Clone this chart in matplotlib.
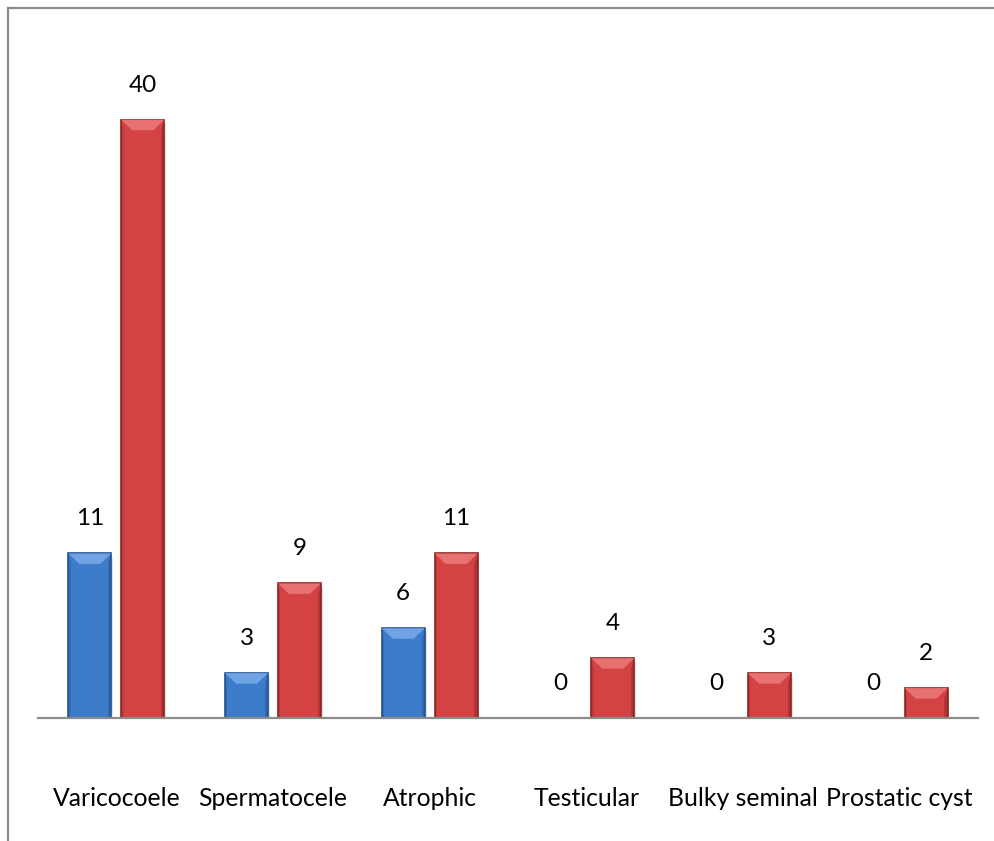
import matplotlib
matplotlib.use("Agg")
import matplotlib.pyplot as plt
from matplotlib.patches import Polygon, Rectangle
from matplotlib.lines import Line2D
import numpy as np

categories = ["Varicocoele", "Spermatocele", "Atrophic", "Testicular",
              "Bulky seminal", "Prostatic cyst"]
series_a = [11, 3, 6, 0, 0, 0]
series_b = [40, 9, 11, 4, 3, 2]

BLUE = "#3D7BCB"
BLUE_EDGE = "#24528C"
BLUE_TOP = "#6FA3E3"
RED = "#D34343"
RED_EDGE = "#8E2222"
RED_TOP = "#E87272"

plt.rcParams['font.family'] = ['Lato', 'DejaVu Sans']

fig = plt.figure(figsize=(9.94, 8.41), dpi=100)
ax = fig.add_axes([38 / 994, 123 / 841, 940 / 994, (718 - 45) / 841])

x = np.arange(len(categories))
w = 0.274
off = 0.169


def bevel_bars(xs, vals, face, edge, top):
    bars = ax.bar(xs, vals, w, color=face, edgecolor=edge, linewidth=1.2, zorder=3)
    for b, v in zip(bars, vals):
        if v <= 0:
            continue
        x0 = b.get_x()
        x1 = x0 + b.get_width()
        bh = min(0.7, v * 0.4)
        bw = 0.07
        # soft shadow
        ax.add_patch(Rectangle((x0 + 0.012, -0.25), b.get_width(), v,
                               color="#000000", alpha=0.12, zorder=2, lw=0))
        # top bevel
        ax.add_patch(Polygon([(x0, v), (x1, v), (x1 - bw, v - bh), (x0 + bw, v - bh)],
                             closed=True, facecolor=top, edgecolor="none", zorder=4))
        # side shading
        ax.add_patch(Polygon([(x1, v), (x1, 0), (x1 - 0.02, 0), (x1 - 0.02, v - bh)],
                             closed=True, facecolor=edge, alpha=0.45, edgecolor="none", zorder=4))
        ax.add_patch(Polygon([(x0, v), (x0, 0), (x0 + 0.015, 0), (x0 + 0.015, v - bh)],
                             closed=True, facecolor=edge, alpha=0.3, edgecolor="none", zorder=4))
    return bars


bevel_bars(x - off, series_a, BLUE, BLUE_EDGE, BLUE_TOP)
bevel_bars(x + off, series_b, RED, RED_EDGE, RED_TOP)

for xs, vals in ((x - off, series_a), (x + off, series_b)):
    for xi, v in zip(xs, vals):
        ax.annotate(str(v), (xi, v), xytext=(0, 25), textcoords="offset points",
                    ha="center", va="center", fontsize=17.5, color="#000000")

ax.set_xlim(-0.5, len(categories) - 0.5)
ax.set_ylim(0, 45)
ax.set_xticks(x)
ax.set_xticklabels(categories, fontsize=17.8)
ax.tick_params(axis="x", length=0, pad=50)
ax.set_yticks([])
for s in ("left", "right", "top"):
    ax.spines[s].set_visible(False)
ax.spines["bottom"].set_color("#8C8C8C")
ax.spines["bottom"].set_linewidth(1.6)
ax.spines["bottom"].set_zorder(5)
ax.patch.set_alpha(0)

# outer chart frame
fig.add_artist(Line2D([8 / 994, 8 / 994], [0, 1 - 8 / 841], color="#8C8C8C", lw=1.6))
fig.add_artist(Line2D([8 / 994, 1], [1 - 8 / 841, 1 - 8 / 841], color="#8C8C8C", lw=1.6))

fig.savefig("out.png", dpi=100, facecolor="white")
